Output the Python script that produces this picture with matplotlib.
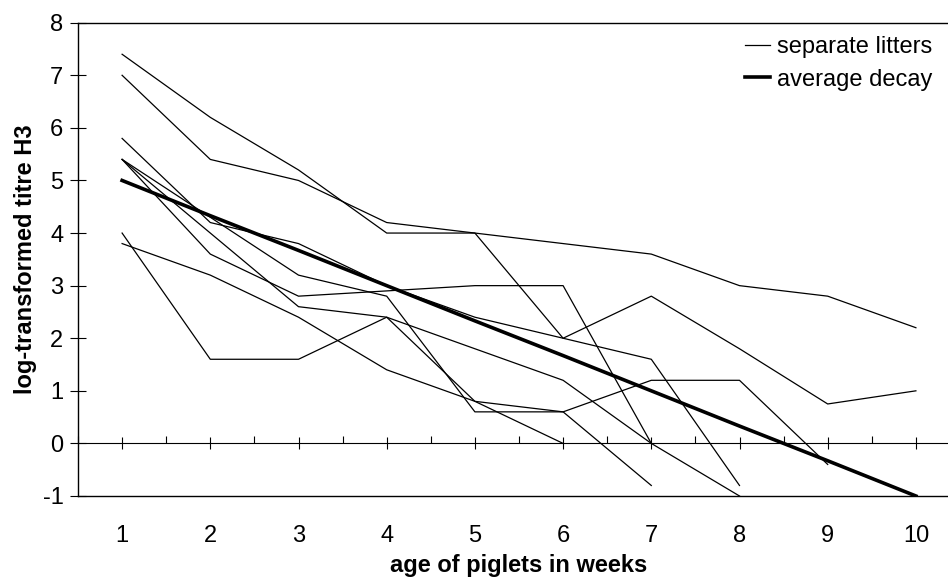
import numpy as np
import matplotlib.pyplot as plt

plt.rcParams['font.family'] = ['Liberation Sans', 'DejaVu Sans']
plt.rcParams['axes.unicode_minus'] = False

weeks = [1, 2, 3, 4, 5, 6, 7, 8, 9, 10]
nan = np.nan

# log-transformed titre H3 per litter
litter_1 = [7.4, 6.2, 5.2, 4.0, 4.0, 2.0, 2.8, 1.8, 0.75, 1.0]
litter_2 = [7.0, 5.4, 5.0, 4.2, 4.0, 3.8, 3.6, 3.0, 2.8, 2.2]
litter_3 = [5.8, 4.2, 3.8, 3.0, 2.4, 2.0, 1.6, -0.8, nan, nan]
litter_4 = [5.4, 4.0, 2.6, 2.4, 1.8, 1.2, 0.0, -1.0, nan, nan]
litter_5 = [5.4, 3.6, 2.8, 2.9, 3.0, 3.0, 0.0, nan, nan, nan]
litter_6 = [5.4, 4.3, 3.2, 2.8, 0.6, 0.6, -0.8, nan, nan, nan]
litter_7 = [4.0, 1.6, 1.6, 2.4, 0.8, 0.6, 1.2, 1.2, -0.4, nan]
litter_8 = [3.8, 3.2, 2.4, 1.4, 0.8, 0.0, nan, nan, nan, nan]
litters = [litter_1, litter_2, litter_3, litter_4,
           litter_5, litter_6, litter_7, litter_8]

average = [5.0, 4.33, 3.67, 3.0, 2.33, 1.67, 1.0, 0.33, -0.33, -1.0]

W, H = 948, 577
fig = plt.figure(figsize=(W / 100, H / 100), dpi=100)
# plot area runs a little past the right edge, as in the original
ax = fig.add_axes([78 / W, 81 / H, 882 / W, 473.3 / H])

for i, vals in enumerate(litters):
    ax.plot(weeks, vals, color='black', lw=0.9,
            label='separate litters' if i == 0 else None)
ax.plot(weeks, average, color='black', lw=2.6, label='average decay')

ax.set_xlim(0.5, 10.5)
ax.set_ylim(-1, 8)
ax.set_yticks(range(-1, 9))
ax.set_xticks(weeks)
ax.tick_params(axis='y', direction='inout', length=11, width=0.8,
               labelsize=17, pad=5)
ax.tick_params(axis='x', length=0, labelsize=17, pad=21)
for s in ['left', 'top', 'bottom']:
    ax.spines[s].set_linewidth(1.0)
ax.spines['right'].set_visible(False)

# category axis crossing at y = 0
zero_ax = ax.secondary_xaxis(1 / 9)
zero_ax.set_xticks(weeks)
zero_ax.set_xticks([w + 0.5 for w in weeks[:-1]] + [0.5], minor=True)
zero_ax.tick_params(which='major', direction='inout', length=9, width=0.8,
                    labelbottom=False)
zero_ax.tick_params(which='minor', direction='in', length=5, width=0.8)
zero_ax.spines['bottom'].set_linewidth(0.8)

ax.set_xlabel('age of piglets in weeks', fontsize=17, fontweight='bold')
ax.xaxis.set_label_coords(0.5, -0.122)
ax.set_ylabel('log-transformed titre H3', fontsize=17, fontweight='bold')
ax.yaxis.set_label_coords(-0.046, 0.5)

ax.legend(loc='upper right', bbox_to_anchor=(932 / W, 1 - 36 / H),
          bbox_transform=fig.transFigure, frameon=False, fontsize=17,
          handlelength=1.05, handletextpad=0.3, labelspacing=0.45,
          borderpad=0, borderaxespad=0)

fig.savefig('out.png', dpi=100)
